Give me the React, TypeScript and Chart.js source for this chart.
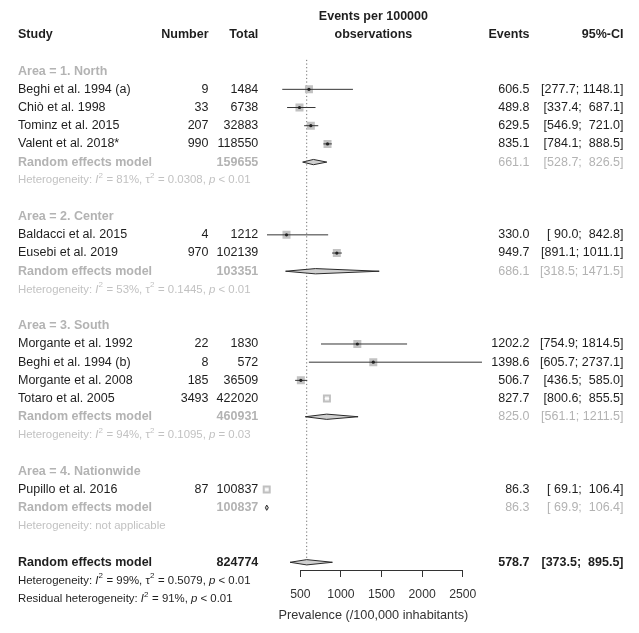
import React, { useEffect, useRef } from "react";
import { Chart, registerables } from "chart.js";

Chart.register(...registerables);

const FONT = "'Liberation Sans', Arial, Helvetica, sans-serif";

// ---------------- data ----------------
const studyNames = [
  "Beghi et al. 1994 (a)",
  "Chiò et al. 1998",
  "Tominz et al. 2015",
  "Valent et al. 2018*",
  "Baldacci et al. 2015",
  "Eusebi et al. 2019",
  "Morgante et al. 1992",
  "Beghi et al. 1994 (b)",
  "Morgante et al. 2008",
  "Totaro et al. 2005",
  "Pupillo et al. 2016",
];
const studyArea = [0, 0, 0, 0, 1, 1, 2, 2, 2, 2, 3];
const studyEvents = [9, 33, 207, 990, 4, 970, 22, 8, 185, 3493, 87];
const studyTotals = [1484, 6738, 32883, 118550, 1212, 102139, 1830, 572, 36509, 422020, 100837];
const studyEst = [606.5, 489.8, 629.5, 835.1, 330.0, 949.7, 1202.2, 1398.6, 506.7, 827.7, 86.3];
const studyLower = [277.7, 337.4, 546.9, 784.1, 90.0, 891.1, 754.9, 605.7, 436.5, 800.6, 69.1];
const studyUpper = [1148.1, 687.1, 721.0, 888.5, 842.8, 1011.1, 1814.5, 2737.1, 585.0, 855.5, 106.4];

const areaNames = ["Area = 1. North", "Area = 2. Center", "Area = 3. South", "Area = 4. Nationwide"];
const areaTotals = [159655, 103351, 460931, 100837];
const areaEst = [661.1, 686.1, 825.0, 86.3];
const areaLower = [528.7, 318.5, 561.1, 69.9];
const areaUpper = [826.5, 1471.5, 1211.5, 106.4];
const areaI2 = ["81%", "53%", "94%", ""];
const areaTau2 = ["0.0308", "0.1445", "0.1095", ""];
const areaP = ["< 0.01", "< 0.01", "= 0.03", ""];

const overallTotal = 824774;
const overallEst = 578.7;
const overallLower = 373.5;
const overallUpper = 895.5;
const overallI2 = "99%";
const overallTau2 = "0.5079";
const overallP = "< 0.01";
const residualI2 = "91%";
const residualP = "< 0.01";

const xTicks = [500, 1000, 1500, 2000, 2500];
const X_MIN = 0;
const X_MAX = 2800;

// ---------------- layout of rows ----------------
type RowKind = "area" | "study" | "model" | "het" | "overall" | "overallHet" | "resid";
type Row = { kind: RowKind; idx: number; row: number };
const rows: Row[] = [];
const studyRow: number[] = [];
const areaModelRow: number[] = [];
{
  let r = 0;
  areaNames.forEach((_, a) => {
    rows.push({ kind: "area", idx: a, row: r++ });
    studyArea.forEach((sa, i) => {
      if (sa === a) {
        studyRow[i] = r;
        rows.push({ kind: "study", idx: i, row: r++ });
      }
    });
    areaModelRow[a] = r;
    rows.push({ kind: "model", idx: a, row: r++ });
    rows.push({ kind: "het", idx: a, row: r++ });
    r++;
  });
  rows.push({ kind: "overall", idx: 0, row: r++ });
  rows.push({ kind: "overallHet", idx: 0, row: r++ });
  rows.push({ kind: "resid", idx: 0, row: r++ });
}
const OVERALL_ROW = rows.find((r) => r.kind === "overall")!.row;

const Y_MIN = -3.6;
const Y_MAX = 27.425;
const BOX = 8; // px side of study squares
const DIA_H = 0.145; // half height of diamonds in row units

const BLACK = "#1e1e1e";
const GRAY = "#b3b3b3";
const HETGRAY = "#c2c2c2";

const fmt1 = (v: number) => v.toFixed(1);
const padL = (s: string, w: number) => (s.length >= w ? s : " ".repeat(w - s.length) + s);
const ciText = (lo: number, hi: number) => `[${padL(fmt1(lo), 5)}; ${padL(fmt1(hi), 6)}]`;

type Seg = { t: string; it?: boolean; sup?: boolean };
const hetSegs = (i2: string, tau2: string, p: string): Seg[] => [
  { t: "Heterogeneity: " },
  { t: "I", it: true },
  { t: "2", sup: true },
  { t: ` = ${i2}, ` },
  { t: "τ" },
  { t: "2", sup: true },
  { t: ` = ${tau2}, ` },
  { t: "p", it: true },
  { t: ` ${p}` },
];
const residSegs = (i2: string, p: string): Seg[] => [
  { t: "Residual heterogeneity: " },
  { t: "I", it: true },
  { t: "2", sup: true },
  { t: ` = ${i2}, ` },
  { t: "p", it: true },
  { t: ` ${p}` },
];

function drawRich(ctx: CanvasRenderingContext2D, segs: Seg[], x: number, y: number, size: number, color: string) {
  let cx = x;
  ctx.fillStyle = color;
  ctx.textAlign = "left";
  ctx.textBaseline = "middle";
  for (const s of segs) {
    const fs = s.sup ? size * 0.7 : size;
    ctx.font = `${s.it ? "italic " : ""}normal ${fs}px ${FONT}`;
    ctx.fillText(s.t, cx, s.sup ? y - size * 0.38 : y);
    cx += ctx.measureText(s.t).width + (s.sup ? 0.5 : 0);
  }
}

function txt(
  ctx: CanvasRenderingContext2D,
  s: string,
  x: number,
  y: number,
  align: CanvasTextAlign,
  color: string,
  bold: boolean,
  size = 12.5
) {
  ctx.font = `${bold ? "bold " : ""}${size}px ${FONT}`;
  ctx.fillStyle = color;
  ctx.textAlign = align;
  ctx.textBaseline = "middle";
  ctx.fillText(s, x, y);
}

const X_STUDY = 18;
const X_NUM = 208.5;
const X_TOT = 258.3;
const X_EVT = 529.5;
const X_CI = 623.5;
const HET_SIZE = 11.4;

const textPlugin = {
  id: "forestText",
  afterDraw(chart: any) {
    const ctx: CanvasRenderingContext2D = chart.ctx;
    const ys = chart.scales.y;
    const xs = chart.scales.x;
    const Y = (r: number) => ys.getPixelForValue(r);
    const ca = chart.chartArea;
    const cx = (ca.left + ca.right) / 2;
    ctx.save();

    // axis line from first to last tick
    ctx.strokeStyle = "#333";
    ctx.lineWidth = 1;
    ctx.beginPath();
    const yb = Math.round(ca.bottom) + 0.5;
    ctx.moveTo(xs.getPixelForValue(xTicks[0]), yb);
    ctx.lineTo(xs.getPixelForValue(xTicks[xTicks.length - 1]), yb);
    ctx.stroke();

    // headers
    txt(ctx, "Events per 100000", cx, Y(-3), "center", BLACK, true);
    txt(ctx, "observations", cx, Y(-2), "center", BLACK, true);
    txt(ctx, "Study", X_STUDY, Y(-2), "left", BLACK, true);
    txt(ctx, "Number", X_NUM, Y(-2), "right", BLACK, true);
    txt(ctx, "Total", X_TOT, Y(-2), "right", BLACK, true);
    txt(ctx, "Events", X_EVT, Y(-2), "right", BLACK, true);
    txt(ctx, "95%-CI", X_CI, Y(-2), "right", BLACK, true);

    for (const r of rows) {
      const y = Y(r.row);
      if (r.kind === "area") {
        txt(ctx, areaNames[r.idx], X_STUDY, y, "left", GRAY, true);
      } else if (r.kind === "study") {
        const i = r.idx;
        txt(ctx, studyNames[i], X_STUDY, y, "left", BLACK, false);
        txt(ctx, String(studyEvents[i]), X_NUM, y, "right", BLACK, false);
        txt(ctx, String(studyTotals[i]), X_TOT, y, "right", BLACK, false);
        txt(ctx, fmt1(studyEst[i]), X_EVT, y, "right", BLACK, false);
        txt(ctx, ciText(studyLower[i], studyUpper[i]), X_CI, y, "right", BLACK, false);
      } else if (r.kind === "model") {
        const a = r.idx;
        txt(ctx, "Random effects model", X_STUDY, y, "left", GRAY, true);
        txt(ctx, String(areaTotals[a]), X_TOT, y, "right", GRAY, true);
        txt(ctx, fmt1(areaEst[a]), X_EVT, y, "right", GRAY, false);
        txt(ctx, ciText(areaLower[a], areaUpper[a]), X_CI, y, "right", GRAY, false);
      } else if (r.kind === "het") {
        const a = r.idx;
        if (areaI2[a]) drawRich(ctx, hetSegs(areaI2[a], areaTau2[a], areaP[a]), X_STUDY, y, HET_SIZE, HETGRAY);
        else drawRich(ctx, [{ t: "Heterogeneity: not applicable" }], X_STUDY, y, HET_SIZE, HETGRAY);
      } else if (r.kind === "overall") {
        txt(ctx, "Random effects model", X_STUDY, y, "left", BLACK, true);
        txt(ctx, String(overallTotal), X_TOT, y, "right", BLACK, true);
        txt(ctx, fmt1(overallEst), X_EVT, y, "right", BLACK, true);
        txt(ctx, ciText(overallLower, overallUpper), X_CI, y, "right", BLACK, true);
      } else if (r.kind === "overallHet") {
        drawRich(ctx, hetSegs(overallI2, overallTau2, overallP), X_STUDY, y, HET_SIZE, BLACK);
      } else if (r.kind === "resid") {
        drawRich(ctx, residSegs(residualI2, residualP), X_STUDY, y, HET_SIZE, BLACK);
      }
    }
    ctx.restore();
  },
};

const ciInsideBox = (chart: any, i: number) => {
  const s = chart.scales.x;
  return s.getPixelForValue(studyUpper[i]) - s.getPixelForValue(studyLower[i]) < BOX;
};

const diamond = (est: number, lo: number, hi: number, row: number) => [
  { x: lo, y: row },
  { x: est, y: row - DIA_H },
  { x: hi, y: row },
  { x: est, y: row + DIA_H },
  { x: lo, y: row },
];

export default function App() {
  const ref = useRef<HTMLCanvasElement | null>(null);

  useEffect(() => {
    if (!ref.current) return;
    const datasets: any[] = [];

    // reference (dotted) line at overall estimate
    datasets.push({
      type: "line",
      data: [
        { x: overallEst, y: -0.62 },
        { x: overallEst, y: OVERALL_ROW + 0.2 },
      ],
      borderColor: "#6e6e6e",
      borderWidth: 1,
      borderDash: [1.2, 2.4],
      pointRadius: 0,
      order: 10,
    });

    // study squares
    const pts = studyEst.map((e, i) => ({ x: e, y: studyRow[i] }));
    datasets.push({
      type: "line",
      showLine: false,
      data: pts,
      pointStyle: "rect",
      pointRadius: (c: any) => (ciInsideBox(c.chart, c.dataIndex) ? (BOX - 2) / 2 / Math.SQRT1_2 : BOX / 2 / Math.SQRT1_2),
      pointBackgroundColor: (c: any) => (ciInsideBox(c.chart, c.dataIndex) ? "#f3f3f3" : "#c2c2c2"),
      pointBorderColor: "#c0c0c0",
      pointBorderWidth: (c: any) => (ciInsideBox(c.chart, c.dataIndex) ? 2 : 0),
      pointHoverRadius: 0,
      order: 5,
    });

    // CI lines
    studyEst.forEach((_, i) => {
      datasets.push({
        type: "line",
        data: [
          { x: studyLower[i], y: studyRow[i] },
          { x: studyUpper[i], y: studyRow[i] },
        ],
        borderColor: (c: any) => (ciInsideBox(c.chart, i) ? "#ffffff" : "#353535"),
        borderWidth: 1,
        pointRadius: 0,
        order: 4,
      });
    });

    // center points
    datasets.push({
      type: "line",
      showLine: false,
      data: pts,
      pointStyle: "circle",
      pointRadius: (c: any) => (ciInsideBox(c.chart, c.dataIndex) ? 0 : 1.6),
      pointBackgroundColor: "#222",
      pointBorderWidth: 0,
      order: 3,
    });

    // subgroup diamonds
    areaEst.forEach((e, a) => {
      datasets.push({
        type: "line",
        data: diamond(e, areaLower[a], areaUpper[a], areaModelRow[a]),
        fill: "shape",
        backgroundColor: "#cfcfcf",
        borderColor: "#2a2a2a",
        borderWidth: 1,
        pointRadius: 0,
        tension: 0,
        order: 2,
      });
    });
    // overall diamond
    datasets.push({
      type: "line",
      data: diamond(overallEst, overallLower, overallUpper, OVERALL_ROW),
      fill: "shape",
      backgroundColor: "#cfcfcf",
      borderColor: "#2a2a2a",
      borderWidth: 1,
      pointRadius: 0,
      tension: 0,
      order: 1,
    });

    const chart = new Chart(ref.current, {
      type: "line",
      data: { datasets },
      options: {
        animation: false,
        responsive: true,
        maintainAspectRatio: false,
        events: [],
        layout: { padding: { left: 259.7, right: 151.9, top: 3.8, bottom: 0 } },
        plugins: { legend: { display: false }, tooltip: { enabled: false }, title: { display: false } },
        scales: {
          x: {
            type: "linear",
            min: X_MIN,
            max: X_MAX,
            position: "bottom",
            afterBuildTicks: (s: any) => {
              s.ticks = xTicks.map((v) => ({ value: v }));
            },
            afterFit: (s: any) => {
              s.height = 63;
            },
            ticks: {
              font: { size: 12.2, family: FONT },
              color: "#333",
              padding: 10.5,
              autoSkip: false,
              maxRotation: 0,
              callback: (v: any) => String(v),
            },
            grid: { drawOnChartArea: false, drawTicks: true, tickLength: 7, color: "#333", lineWidth: 1 },
            border: { display: false },
            title: {
              display: true,
              text: "Prevalence (/100,000 inhabitants)",
              font: { size: 12.7, family: FONT },
              color: "#333",
              padding: { top: 0, bottom: 9.5 },
            },
          },
          y: { type: "linear", min: Y_MIN, max: Y_MAX, reverse: true, display: false },
        },
      } as any,
      plugins: [textPlugin],
    });
    return () => chart.destroy();
  }, []);

  return (
    <div style={{ position: "absolute", left: 0, top: 0, width: 639, height: 633, background: "#fff" }}>
      <canvas ref={ref} />
    </div>
  );
}
